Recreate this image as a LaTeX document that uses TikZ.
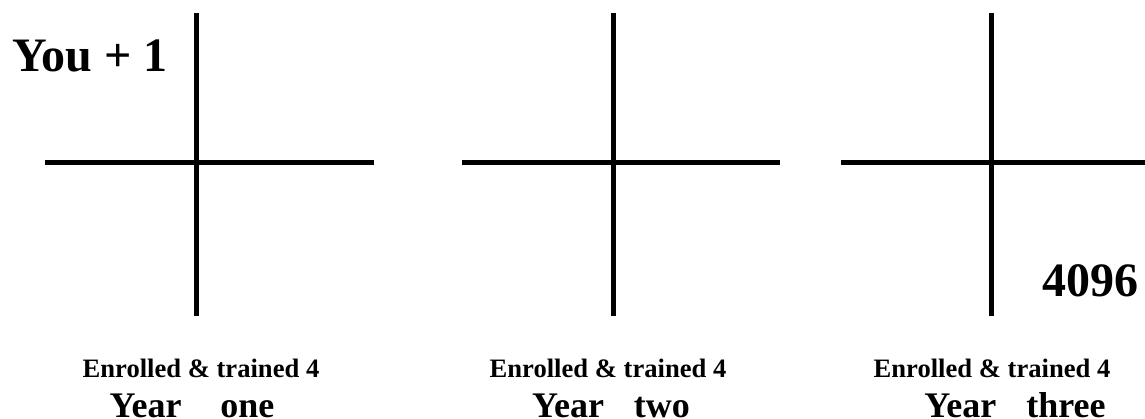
\documentclass[tikz,border=0pt]{standalone}
\usepackage{fontspec}
\setmainfont{Liberation Serif}
\usetikzlibrary{positioning}

\begin{document}
\begin{tikzpicture}[
    x=1pt, y=-1pt,
    every node/.style={inner sep=0pt, anchor=base, font=\bfseries},
    axisline/.style={line width=5pt, black},
    bigtag/.style={font=\fontsize{48}{48}\selectfont\bfseries},
    smalltag/.style={font=\fontsize{26.6}{27}\selectfont\bfseries},
    yeartag/.style={font=\fontsize{36}{36}\selectfont\bfseries}
]
\useasboundingbox (0,0) rectangle (1145,419);

% Crosses: centre x, left end, right end
\foreach \cx/\lx/\rx/\nm in {196/45/374/one, 613/462/780/two, 991/841/1145/three} {
    \coordinate (top\nm) at (\cx,13);
    \coordinate (bot\nm) at (\cx,316);
    \coordinate (left\nm) at (\lx,163);
    \coordinate (right\nm) at (\rx,163);
    \draw[axisline] (top\nm) -- (bot\nm);
    \draw[axisline] (left\nm) -- (right\nm);
}

% Corner labels
\node[bigtag] (you) at (90,72) {You + 1};
\node[bigtag] (total) at (1090,297) {4096};

% Captions
\node[smalltag] (enrolone) at (201,377) {Enrolled \& trained 4};
\node[smalltag] (enroltwo) at (608,377) {Enrolled \& trained 4};
\node[smalltag] (enrolthree) at (992,377) {Enrolled \& trained 4};

\node[yeartag] (yearone) at (192,417) {Year\hspace{39pt}one};
\node[yeartag] (yeartwo) at (611,417) {Year\hspace{30pt}two};
\node[yeartag] (yearthree) at (1015,417) {Year\hspace{30pt}three};

\end{tikzpicture}
\end{document}
